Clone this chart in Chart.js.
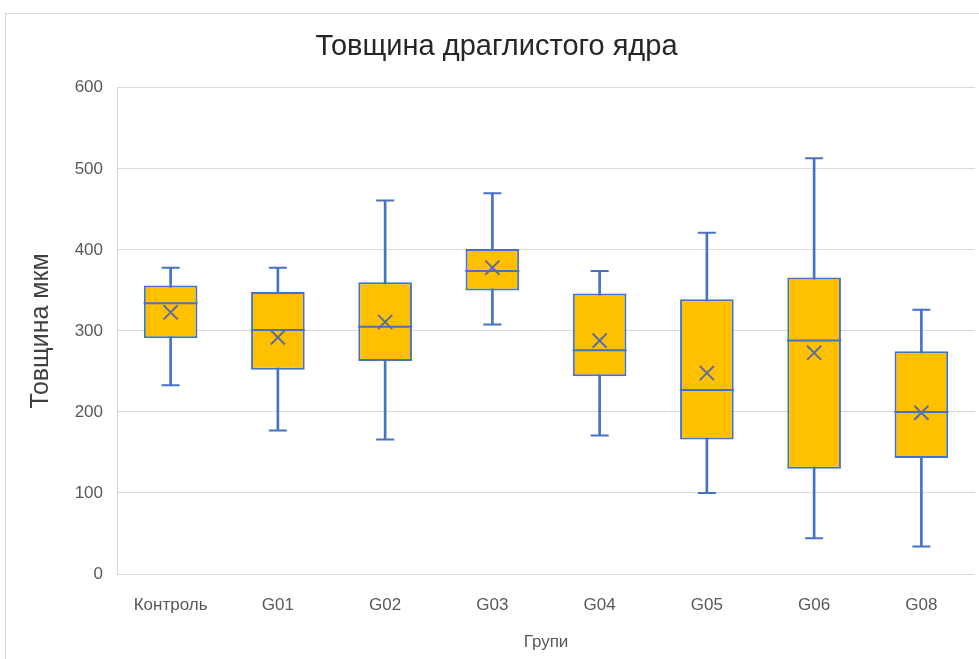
<!DOCTYPE html>
<html>
<head>
<meta charset="utf-8">
<script src="https://cdn.jsdelivr.net/npm/chart.js@4.4.0/dist/chart.umd.min.js"></script>
<style>
html, body { margin: 0; padding: 0; background: #fff; overflow: hidden; }
</style>
</head>
<body>
<canvas id="boxChart" width="979" height="659"></canvas>
<script>
// дані
const grupy = ['Контроль', 'G01', 'G02', 'G03', 'G04', 'G05', 'G06', 'G08'];
const minimum = [233, 177, 166, 308, 171, 100, 44, 34];
const kvartyl1 = [291, 252, 263, 350, 244, 166, 130, 143];
const mediana = [334, 301, 305, 374, 276, 227, 288, 200];
const kvartyl3 = [356, 348, 360, 401, 346, 339, 366, 275];
const maksymum = [378, 378, 461, 470, 374, 421, 513, 326];
const serednie = [323, 292, 311, 378, 288, 248, 273, 199];
const yTicks = [0, 100, 200, 300, 400, 500, 600];

const syniy = '#4472C4';
const zhovtyi = '#FFC000';
const shryft = "'Liberation Sans', Arial, sans-serif";

// рамка області діаграми як в Excel
const ramka = {
    id: 'ramka',
    beforeDraw(chart) {
        const ctx = chart.ctx;
        ctx.save();
        ctx.strokeStyle = '#d9d9d9';
        ctx.lineWidth = 1;
        ctx.strokeRect(5.5, 13.5, chart.width + 10, chart.height + 10);
        ctx.restore();
    }
};

function punkty(dani, styl, radius, order, kolir) {
    return {
        type: 'line',
        data: dani,
        showLine: false,
        pointStyle: styl,
        pointRadius: radius,
        pointBorderWidth: 2,
        pointBorderColor: kolir || syniy,
        pointBackgroundColor: kolir || syniy,
        order: order
    };
}

const ctx = document.getElementById('boxChart').getContext('2d');
new Chart(ctx, {
    type: 'bar',
    data: {
        labels: grupy,
        datasets: [
            punkty(serednie, 'crossRot', 10, 0, '#5a70a0'),
            punkty(mediana, 'line', 27, 1),
            {
                label: 'box',
                data: grupy.map((g, i) => [kvartyl1[i], kvartyl3[i]]),
                backgroundColor: zhovtyi,
                borderColor: syniy,
                borderWidth: 2,
                borderSkipped: false,
                barPercentage: 0.5,
                categoryPercentage: 1,
                grouped: false,
                order: 2
            },
            punkty(minimum, 'line', 9, 3),
            punkty(maksymum, 'line', 9, 3),
            {
                label: 'whisker',
                data: grupy.map((g, i) => [minimum[i], maksymum[i]]),
                backgroundColor: syniy,
                borderWidth: 0,
                barThickness: 2,
                grouped: false,
                order: 4
            }
        ]
    },
    options: {
        responsive: false,
        animation: false,
        events: [],
        layout: { autoPadding: false, padding: { left: 18, right: 4, top: 0, bottom: 0 } },
        plugins: {
            legend: { display: false },
            tooltip: { enabled: false },
            title: {
                display: true,
                text: 'Товщина драглистого ядра',
                color: '#262626',
                font: { family: shryft, size: 29, weight: 'normal' },
                padding: { top: 30, bottom: 23 }
            }
        },
        scales: {
            x: {
                grid: { display: false },
                border: { display: false },
                ticks: { color: '#595959', font: { family: shryft, size: 17 }, padding: 13 },
                title: {
                    display: true,
                    text: 'Групи',
                    color: '#595959',
                    font: { family: shryft, size: 17 },
                    padding: { top: 12, bottom: 6 }
                },
                afterFit(scale) {
                    scale.height = 85;
                    scale.paddingLeft = 0;
                    scale.paddingRight = 0;
                }
            },
            y: {
                min: yTicks[0],
                max: yTicks[yTicks.length - 1],
                afterBuildTicks(scale) { scale.ticks = yTicks.map(v => ({ value: v })); },
                grid: { color: '#d9d9d9', drawTicks: false },
                border: { color: '#d9d9d9' },
                ticks: { color: '#595959', font: { family: shryft, size: 17 }, padding: 14 },
                title: {
                    display: true,
                    text: 'Товщина мкм',
                    color: '#404040',
                    font: { family: shryft, size: 25 },
                    padding: { top: 8, bottom: 0 }
                },
                afterFit(scale) { scale.width = 99; }
            }
        }
    },
    plugins: [ramka]
});
</script>
</body>
</html>
